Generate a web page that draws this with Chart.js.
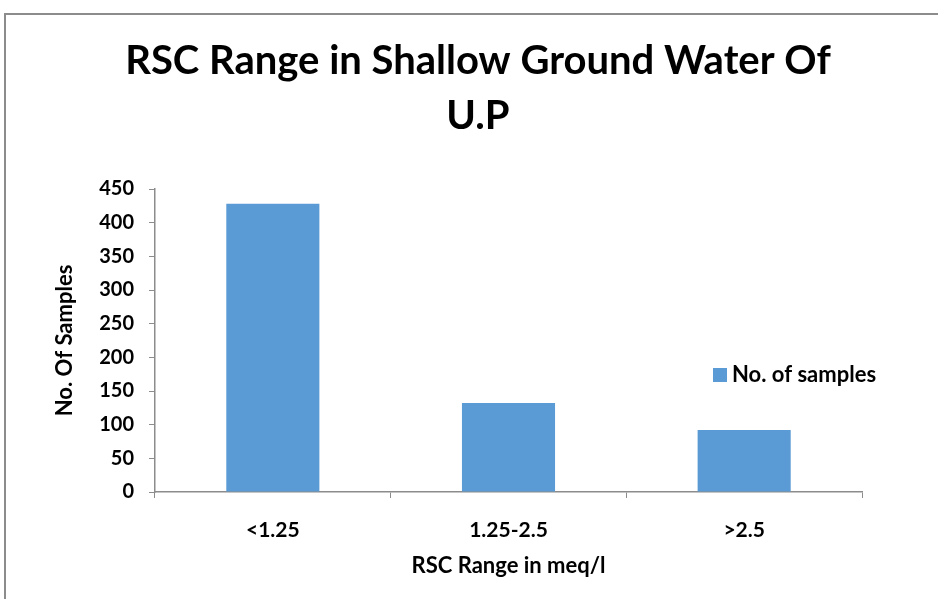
<!DOCTYPE html>
<html>
<head>
<meta charset="utf-8">
<script src="https://cdn.jsdelivr.net/npm/chart.js@4"></script>
<style>
  body { margin: 0; background: #fff; }
  #wrap { position: relative; width: 938px; height: 599px; overflow: hidden; }
  #frame { position: absolute; left: 4px; top: 13px; width: 1000px; height: 700px; border: 2px solid #8c8c8c; }
  canvas { position: absolute; left: 0; top: 0; }
</style>
</head>
<body>
<div id="wrap">
  <div id="frame"></div>
  <canvas id="chart" width="938" height="599"></canvas>
</div>
<script>
var categories = ["<1.25", "1.25-2.5", ">2.5"];
var samples = [428, 132, 92];
var yTicks = [0, 50, 100, 150, 200, 250, 300, 350, 400, 450];

var fontFam = "Lato, 'Open Sans', sans-serif";
var axisGray = "#8c8c8c";

// legend sits inside the plot, to the right of the last bars
var insideLegend = {
    id: "insideLegend",
    afterDraw: function(chart) {
        var ctx = chart.ctx;
        var ds = chart.data.datasets[0];
        ctx.save();
        ctx.fillStyle = ds.backgroundColor;
        ctx.fillRect(713, 368, 14, 14);
        ctx.fillStyle = "#000";
        ctx.font = "bold 22px " + fontFam;
        ctx.textBaseline = "middle";
        ctx.fillText(ds.label, 732, 375);
        ctx.restore();
    }
};

var ctx = document.getElementById("chart");
var chart = new Chart(ctx, {
    type: "bar",
    data: {
        labels: categories,
        datasets: [{
            label: "No. of samples",
            data: samples,
            backgroundColor: "#5b9bd5",
            categoryPercentage: 1,
            barPercentage: 0.395
        }]
    },
    options: {
        responsive: false,
        animation: false,
        layout: { padding: { left: 18, right: 0, top: 0, bottom: 0 } },
        plugins: {
            legend: { display: false },
            tooltip: { enabled: false },
            title: {
                display: true,
                text: ["RSC Range in Shallow Ground Water Of", "U.P"],
                color: "#000",
                font: { family: fontFam, size: 40, weight: "bold", lineHeight: 1.375 },
                padding: { top: 34, bottom: 45 }
            }
        },
        scales: {
            x: {
                afterFit: function(s) { s.height = 107; },
                grid: { drawOnChartArea: false, drawTicks: true, tickLength: 6, color: axisGray, offset: true },
                border: { color: axisGray, width: 1.5 },
                ticks: { color: "#000", padding: 20, font: { family: fontFam, size: 21, weight: "bold" } },
                title: {
                    display: true,
                    text: "RSC Range in meq/l",
                    color: "#000",
                    font: { family: fontFam, size: 22, weight: "bold" },
                    padding: { top: 0, bottom: 20 }
                }
            },
            y: {
                min: 0,
                max: 450,
                afterFit: function(s) { s.width = 137; },
                afterBuildTicks: function(s) { s.ticks = yTicks.map(function(v) { return { value: v }; }); },
                grid: { drawOnChartArea: false, drawTicks: true, tickLength: 6, color: axisGray },
                border: { color: axisGray, width: 1.5 },
                ticks: { color: "#000", padding: 15, font: { family: fontFam, size: 20, weight: "bold" } },
                title: {
                    display: true,
                    text: "No. Of Samples",
                    color: "#000",
                    font: { family: fontFam, size: 22, weight: "bold" },
                    padding: { top: 34, bottom: 0 }
                }
            },
            // empty strip on the right so the plot ends where the reference does
            yRight: {
                position: "right",
                display: true,
                afterFit: function(s) { s.width = 76; },
                grid: { display: false },
                border: { display: false },
                ticks: { display: false }
            }
        }
    },
    plugins: [insideLegend]
});
</script>
</body>
</html>
